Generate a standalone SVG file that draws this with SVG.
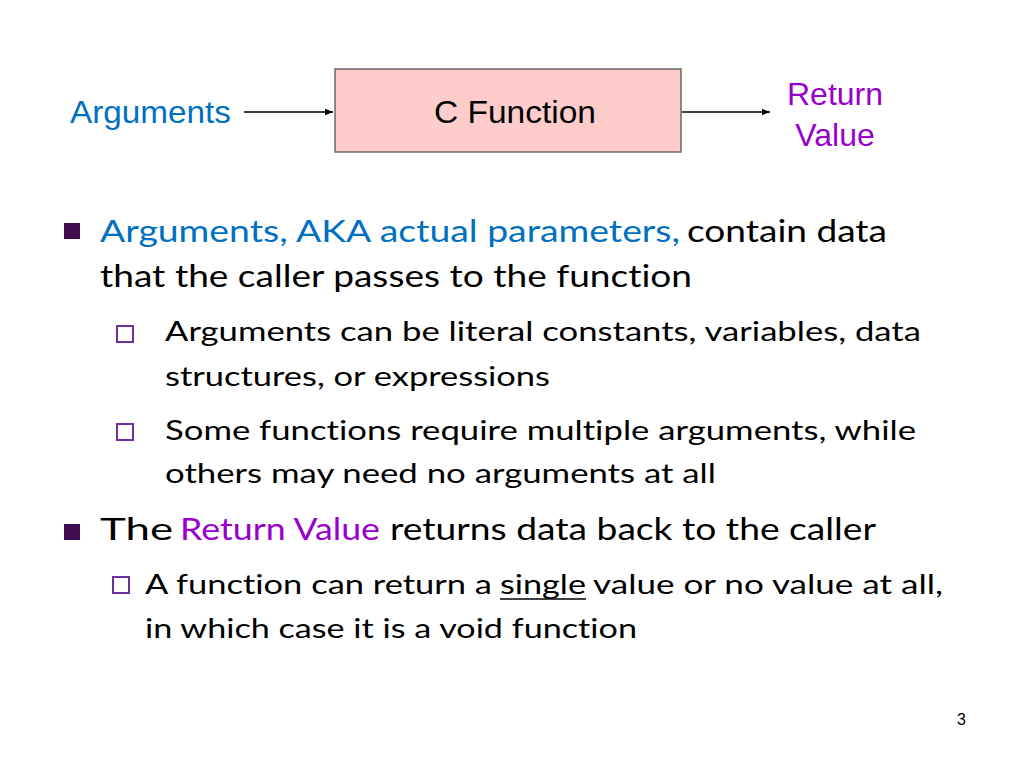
<svg xmlns="http://www.w3.org/2000/svg" width="1024" height="768" viewBox="0 0 1024 768">
<defs>
<style>
.ar{font-family:"Liberation Sans",Arial,sans-serif;font-size:32px}
.cb{font-family:Lato,"Noto Sans",sans-serif;font-size:30px;fill:#000;font-variant-ligatures:none;font-feature-settings:"liga" 0,"clig" 0,"dlig" 0}
.cs{font-family:Lato,"Noto Sans",sans-serif;font-size:26px;fill:#000;font-variant-ligatures:none;font-feature-settings:"liga" 0,"clig" 0,"dlig" 0}
.blue{fill:#0070C0}
.purp{fill:#9900CC}
.conn{stroke:#000;stroke-width:1.3;fill:none}
.sq{fill:#3F0D4E}
.hsq{fill:none;stroke:#7030A0;stroke-width:2}
</style>
<marker id="ah" viewBox="0 0 10 10" refX="10" refY="5" markerWidth="8" markerHeight="8" markerUnits="userSpaceOnUse" orient="auto">
<path d="M0,1 L10,5 L0,9 z" fill="#000"/>
</marker>
</defs>
<rect width="1024" height="768" fill="#fff"/>

<g id="arguments">
<text class="ar blue" x="70" y="123" textLength="161" lengthAdjust="spacingAndGlyphs">Arguments</text>
</g>
<g id="cfunction">
<rect x="335" y="69" width="346" height="83" fill="#FFCCCC" stroke="#555" stroke-width="1.3"/>
<text class="ar" x="434" y="123" textLength="162" lengthAdjust="spacingAndGlyphs" fill="#000">C Function</text>
</g>
<g id="returnvalue">
<text class="ar purp" x="835" y="105" text-anchor="middle">Return</text>
<text class="ar purp" x="835" y="146" text-anchor="middle">Value</text>
</g>
<g id="connectors">
<line class="conn" x1="244" y1="112" x2="333" y2="112" marker-end="url(#ah)"/>
<line class="conn" x1="682" y1="112" x2="770" y2="112" marker-end="url(#ah)"/>
</g>

<g id="bullets">
<rect class="sq" x="64" y="223" width="16" height="16"/>
<text class="cb blue" x="100" y="242" textLength="580" lengthAdjust="spacingAndGlyphs">Arguments, AKA actual parameters,</text>
<text class="cb" x="687" y="242" textLength="200" lengthAdjust="spacingAndGlyphs">contain data</text>
<text class="cb" x="100" y="287" textLength="592" lengthAdjust="spacingAndGlyphs">that the caller passes to the function</text>

<rect class="hsq" x="117" y="326" width="16" height="16"/>
<text class="cs" x="165" y="341" textLength="756" lengthAdjust="spacingAndGlyphs">Arguments can be literal constants, variables, data</text>
<text class="cs" x="165" y="386" textLength="385" lengthAdjust="spacingAndGlyphs">structures, or expressions</text>

<rect class="hsq" x="117" y="424" width="16" height="16"/>
<text class="cs" x="165" y="440" textLength="751" lengthAdjust="spacingAndGlyphs">Some functions require multiple arguments, while</text>
<text class="cs" x="165" y="483" textLength="551" lengthAdjust="spacingAndGlyphs">others may need no arguments at all</text>

<rect class="sq" x="64" y="524" width="16" height="16"/>
<text class="cb" x="100" y="540" textLength="73" lengthAdjust="spacingAndGlyphs">The</text>
<text class="cb purp" x="180" y="540" textLength="200" lengthAdjust="spacingAndGlyphs">Return Value</text>
<text class="cb" x="390" y="540" textLength="486" lengthAdjust="spacingAndGlyphs">returns data back to the caller</text>

<rect class="hsq" x="113" y="577" width="16" height="16"/>
<text class="cs" x="145" y="594" textLength="347" lengthAdjust="spacingAndGlyphs">A function can return a</text>
<text class="cs" x="500" y="594" textLength="86" lengthAdjust="spacingAndGlyphs">single</text>
<line x1="500" y1="599" x2="586" y2="599" stroke="#000" stroke-width="1.5"/>
<text class="cs" x="593" y="594" textLength="350" lengthAdjust="spacingAndGlyphs">value or no value at all,</text>
<text class="cs" x="145" y="638" textLength="492" lengthAdjust="spacingAndGlyphs">in which case it is a void function</text>
</g>

<text x="957" y="725" font-family="Liberation Sans,Arial,sans-serif" font-size="16" fill="#000">3</text>
</svg>
